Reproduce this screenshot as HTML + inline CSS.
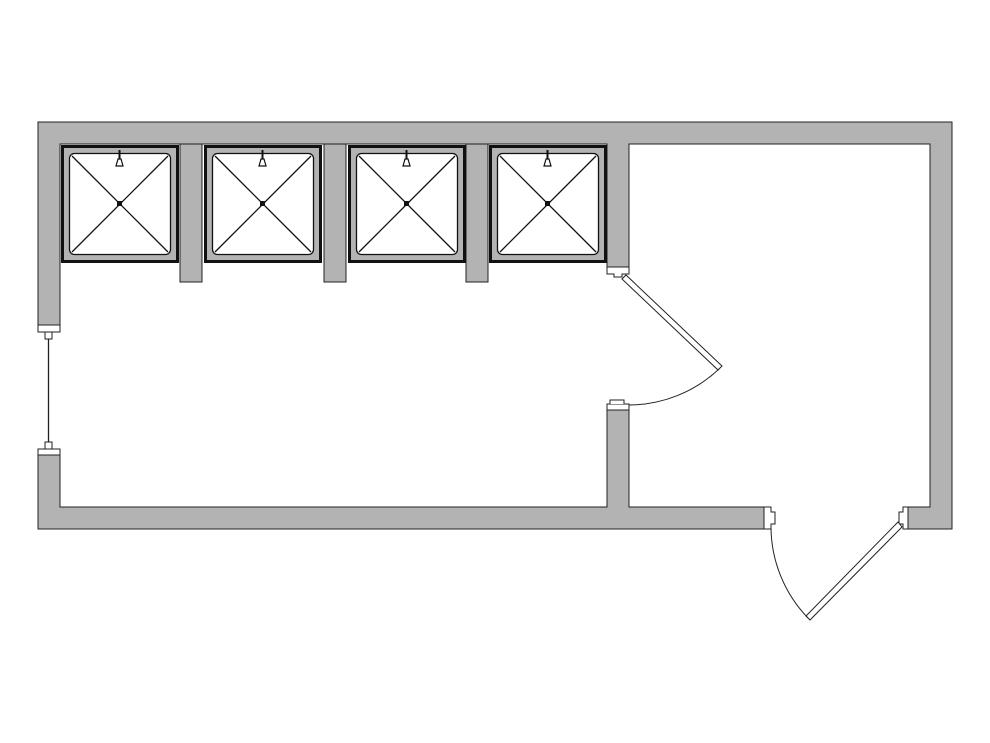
<!DOCTYPE html>
<html><head><style>html,body{margin:0;padding:0;background:#fff}svg{display:block}</style></head>
<body>
<svg width="990" height="743" viewBox="0 0 990 743" xmlns="http://www.w3.org/2000/svg">
<g fill="#b3b3b3" stroke="#222" stroke-width="1">
<!-- main outer walls -->
<path d="M38,122 H952 V529 H908 V507 H930 V144 H629 V267 H607 V144 H60 V325 H38 Z"/>
<path d="M38,455 H60 V507 H607 V404 H629 V507 H764 V529 H38 Z"/>
<!-- stubs -->
<rect x="180" y="144" width="22" height="138"/>
<rect x="324" y="144" width="22" height="138"/>
<rect x="466" y="144" width="22" height="138"/>
</g>
<g fill="#fff" stroke="#222" stroke-width="1">
<!-- left window jambs -->
<rect x="38" y="325" width="22" height="7"/>
<rect x="45" y="332" width="7" height="7"/>
<rect x="38" y="449" width="22" height="6"/>
<rect x="45" y="442" width="7" height="7"/>
<!-- partition door jambs -->
<path d="M607,267 H629 V274 H622 V277 H614 V274 H607 Z"/>
<path d="M607,410 H629 V404 H607 Z"/>
<path d="M610,404 V400 H624 V404"/>
<!-- exterior door jambs -->
<path d="M764,507 H771 V512 H775 V524 H771 V529 H764 Z"/>
<path d="M908,507 H903 V512 H899 V524 H903 V529 H908 Z"/>
</g>
<line x1="48.5" y1="339" x2="48.5" y2="442" stroke="#222" stroke-width="1.3"/>
<!-- door 1 -->
<g stroke="#222" stroke-width="1" fill="#fff">
<path d="M622,279 L626,275 L722,366 L718,370 Z"/>
<path d="M629,405 A132,132 0 0 0 719,369" fill="none"/>
<!-- exterior door -->
<path d="M898,522 L902,527 L810,620 L806,616 Z"/>
<path d="M771,527 A132,132 0 0 0 808,618" fill="none"/>
</g>
<!-- showers -->
<g id="sh">
<rect x="62.5" y="146.5" width="115" height="115" fill="#b3b3b3" stroke="#111" stroke-width="3"/>
<rect x="69.5" y="153.5" width="101" height="101" rx="5" fill="#fff" stroke="#111" stroke-width="1.3"/>
<line x1="72" y1="156" x2="168" y2="252" stroke="#111" stroke-width="1.3"/>
<line x1="168" y1="156" x2="72" y2="252" stroke="#111" stroke-width="1.3"/>
<rect x="117" y="201" width="5" height="5" fill="#111"/>
<line x1="119.5" y1="150" x2="119.5" y2="160" stroke="#111" stroke-width="2"/>
<path d="M116,166 L118,159 H121 L123,166 Z" fill="#fff" stroke="#111" stroke-width="1.2"/>
</g>
<use href="#sh" x="143"/>
<use href="#sh" x="287"/>
<use href="#sh" x="428"/>
</svg>
</body></html>
